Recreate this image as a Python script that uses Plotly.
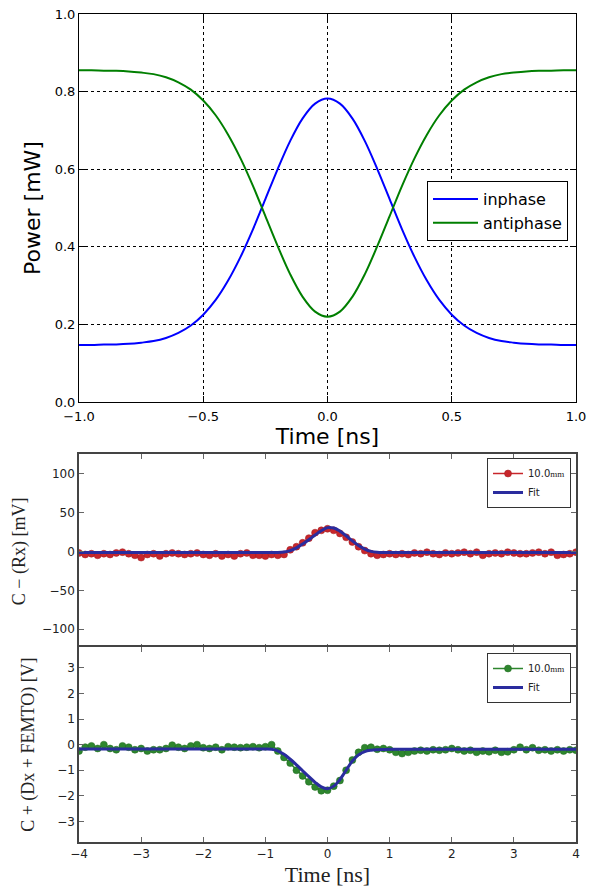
import plotly.graph_objects as go

# ---------------- data: top panel ----------------
t_top = [-1.0, -0.95, -0.9, -0.85, -0.8, -0.75, -0.7, -0.65, -0.6, -0.55, -0.5,
         -0.45, -0.4, -0.35, -0.3, -0.25, -0.2, -0.15, -0.1, -0.05, 0.0,
         0.05, 0.1, 0.15, 0.2, 0.25, 0.3, 0.35, 0.4, 0.45, 0.5,
         0.55, 0.6, 0.65, 0.7, 0.75, 0.8, 0.85, 0.9, 0.95, 1.0]
inphase = [0.147, 0.147, 0.148, 0.1485, 0.150, 0.153, 0.157, 0.165, 0.178, 0.197, 0.225,
           0.263, 0.313, 0.374, 0.445, 0.523, 0.601, 0.673, 0.731, 0.769, 0.782,
           0.769, 0.731, 0.673, 0.601, 0.523, 0.445, 0.374, 0.313, 0.263, 0.225,
           0.197, 0.178, 0.165, 0.157, 0.153, 0.150, 0.1485, 0.148, 0.147, 0.147]
antiphase = [0.855, 0.855, 0.854, 0.8535, 0.852, 0.849, 0.845, 0.837, 0.824, 0.805, 0.777,
             0.739, 0.689, 0.628, 0.557, 0.479, 0.401, 0.329, 0.271, 0.233, 0.220,
             0.233, 0.271, 0.329, 0.401, 0.479, 0.557, 0.628, 0.689, 0.739, 0.777,
             0.805, 0.824, 0.837, 0.845, 0.849, 0.852, 0.8535, 0.854, 0.855, 0.855]

# ---------------- data: bottom panels ----------------
t_bot = [-4.0, -3.9, -3.8, -3.7, -3.6, -3.5, -3.4, -3.3, -3.2, -3.1,
         -3.0, -2.9, -2.8, -2.7, -2.6, -2.5, -2.4, -2.3, -2.2, -2.1,
         -2.0, -1.9, -1.8, -1.7, -1.6, -1.5, -1.4, -1.3, -1.2, -1.1,
         -1.0, -0.9, -0.8, -0.7, -0.6, -0.5, -0.4, -0.3, -0.2, -0.1,
         0.0, 0.1, 0.2, 0.3, 0.4, 0.5, 0.6, 0.7, 0.8, 0.9,
         1.0, 1.1, 1.2, 1.3, 1.4, 1.5, 1.6, 1.7, 1.8, 1.9,
         2.0, 2.1, 2.2, 2.3, 2.4, 2.5, 2.6, 2.7, 2.8, 2.9,
         3.0, 3.1, 3.2, 3.3, 3.4, 3.5, 3.6, 3.7, 3.8, 3.9, 4.0]

rx_data = [-2, -4, -3, -5, -3, -4, -2, -1, -3, -5,
           -8, -4, -3, -6, -3, -2, -3, -4, -3, -2,
           -4, -5, -3, -6, -4, -6, -3, -2, -5, -5,
           -6, -4,
           -5, -4, 2, 6, 11, 17, 24, 27, 29, 27, 23, 18, 12, 6, 1, -3, -5, -4,
           -3, -4, -3, -4, -2, -3, -1, -3, -4, -2,
           -3, -2, -1, -3, -1, -5, -3, -2, -3, -1,
           -2, -3, -3, -2, -1, -3, -1, -5, -4, -3, -1]
rx_fit = [-1.5, -1.5, -1.5, -1.5, -1.5, -1.5, -1.5, -1.5, -1.5, -1.5,
          -1.5, -1.5, -1.5, -1.5, -1.5, -1.5, -1.5, -1.5, -1.5, -1.5,
          -1.5, -1.5, -1.5, -1.5, -1.5, -1.5, -1.5, -1.5, -1.5, -1.5,
          -1.5, -1.5,
          -1.5, -0.8, 1.0, 4.5, 9.5, 15.0, 21.0, 26.5, 30.5, 30.0,
          26.0, 20.0, 13.5, 7.5, 3.0, 0.0, -1.2, -1.5,
          -1.5, -1.5, -1.5, -1.5, -1.5, -1.5, -1.5, -1.5, -1.5, -1.5,
          -1.5, -1.5, -1.5, -1.5, -1.5, -1.5, -1.5, -1.5, -1.5, -1.5,
          -1.5, -1.5, -1.5, -1.5, -1.5, -1.5, -1.5, -1.5, -1.5, -1.5, -1.5]

dx_data = [-0.25, -0.1, -0.05, -0.15, 0.0, -0.15, -0.2, -0.05, -0.1, -0.2,
           -0.15, -0.25, -0.2, -0.2, -0.15, -0.02, -0.1, -0.15, -0.05, 0.0,
           -0.12, -0.15, -0.1, -0.2, -0.08, -0.1, -0.12, -0.1, -0.08, -0.12,
           -0.08, 0.0,
           -0.25, -0.5, -0.72, -1.0, -1.22, -1.45, -1.65, -1.8, -1.78, -1.62,
           -1.4, -1.0, -0.6, -0.3, -0.12, -0.1, -0.18, -0.15,
           -0.2, -0.3, -0.35, -0.3, -0.25, -0.22, -0.25, -0.2, -0.22, -0.2,
           -0.15, -0.2, -0.25, -0.22, -0.3, -0.25, -0.28, -0.22, -0.3, -0.28,
           -0.2, -0.1, -0.2, -0.12, -0.22, -0.2, -0.25, -0.2, -0.25, -0.2, -0.22]
dx_fit = [-0.17, -0.17, -0.17, -0.17, -0.17, -0.17, -0.17, -0.17, -0.17, -0.17,
          -0.17, -0.17, -0.17, -0.17, -0.17, -0.17, -0.17, -0.17, -0.17, -0.17,
          -0.17, -0.17, -0.17, -0.17, -0.17, -0.17, -0.17, -0.17, -0.17, -0.17,
          -0.17,
          -0.18, -0.24, -0.38, -0.57, -0.79, -1.02, -1.25, -1.47, -1.65, -1.72,
          -1.62, -1.36, -1.0, -0.64, -0.40, -0.27, -0.22, -0.20, -0.19,
          -0.18, -0.18, -0.18, -0.18, -0.18, -0.18, -0.18, -0.18, -0.18, -0.18,
          -0.18, -0.18, -0.18, -0.18, -0.18, -0.18, -0.18, -0.18, -0.18, -0.18,
          -0.18, -0.18, -0.18, -0.18, -0.18, -0.18, -0.18, -0.18, -0.18, -0.18, -0.18]

top_xticks = [-1.0, -0.5, 0.0, 0.5, 1.0]
top_yticks = [0.0, 0.2, 0.4, 0.6, 0.8, 1.0]
bot_xticks = [-4, -3, -2, -1, 0, 1, 2, 3, 4]
rx_yticks = [-100, -50, 0, 50, 100]
dx_yticks = [-3, -2, -1, 0, 1, 2, 3]

# ---------------- figure ----------------
W, H = 590, 890
def px(x):
    return x / W
def py(y):
    return 1 - y / H

RED = "#c8262b"
GREEN = "#2e862e"
FITC = "#2a2c9e"

fig = go.Figure()
fig.add_trace(go.Scatter(x=t_top, y=inphase, name="inphase", mode="lines",
                         line=dict(color="#0000ff", width=2, shape="spline"),
                         xaxis="x", yaxis="y", legend="legend"))
fig.add_trace(go.Scatter(x=t_top, y=antiphase, name="antiphase", mode="lines",
                         line=dict(color="#007f00", width=2, shape="spline"),
                         xaxis="x", yaxis="y", legend="legend"))

mm = "10.0<span style='font-family:Liberation Serif;font-size:9px'>mm</span>"
fig.add_trace(go.Scatter(x=t_bot, y=rx_data, name=mm, mode="lines+markers",
                         line=dict(color=RED, width=1.5),
                         marker=dict(color=RED, size=7, line=dict(color="#a01c20", width=0.5)),
                         xaxis="x2", yaxis="y2", legend="legend2"))
fig.add_trace(go.Scatter(x=t_bot, y=rx_fit, name="Fit", mode="lines",
                         line=dict(color=FITC, width=3, shape="spline"),
                         xaxis="x2", yaxis="y2", legend="legend2"))
fig.add_trace(go.Scatter(x=t_bot, y=dx_data, name=mm, mode="lines+markers",
                         line=dict(color=GREEN, width=1.5),
                         marker=dict(color=GREEN, size=7, line=dict(color="#1f6a1f", width=0.5)),
                         xaxis="x3", yaxis="y3", legend="legend3"))
fig.add_trace(go.Scatter(x=t_bot, y=dx_fit, name="Fit", mode="lines",
                         line=dict(color=FITC, width=3, shape="spline"),
                         xaxis="x3", yaxis="y3", legend="legend3"))

sans = "DejaVu Sans"
serif = "Liberation Serif"
xdom = [px(79), px(576)]

common_top = dict(showline=True, linecolor="black", linewidth=1, mirror="allticks",
                  ticks="inside", ticklen=6, tickcolor="black", zeroline=False,
                  showgrid=True, gridcolor="black", griddash="dot", gridwidth=1,
                  automargin=False,
                  tickfont=dict(family=sans, size=13, color="black"))
common_bot = dict(showline=True, linecolor="#444444", linewidth=1.5, mirror="allticks",
                  ticks="inside", ticklen=5, tickcolor="#666666", zeroline=False,
                  showgrid=False, automargin=False,
                  tickfont=dict(family=sans, size=12, color="#222222"))

fig.update_layout(
    template="none",
    width=W, height=H, margin=dict(l=0, r=0, t=0, b=0, pad=0),
    paper_bgcolor="white", plot_bgcolor="white",
    showlegend=True,
    xaxis=dict(domain=xdom, anchor="y", range=[-1, 1], tickvals=top_xticks,
               tickformat=".1f", ticklabelstandoff=2,
               title=dict(text="Time [ns]", font=dict(family=sans, size=22, color="black"),
                          standoff=2),
               **common_top),
    yaxis=dict(domain=[py(402), py(14)], anchor="x", range=[0, 1], tickvals=top_yticks,
               tickformat=".1f",
               title=dict(text="Power [mW]", font=dict(family=sans, size=22, color="black"),
                          standoff=8),
               **common_top),
    xaxis2=dict(domain=xdom, anchor="y2", range=[-4, 4], tickvals=bot_xticks,
                showticklabels=False, **common_bot),
    yaxis2=dict(domain=[py(648.75), py(454)], anchor="x2", range=[-125, 125],
                tickvals=rx_yticks,
                title=dict(text="C − (Rx) [mV]", font=dict(family=serif, size=18, color="#222222"),
                           standoff=12),
                **common_bot),
    xaxis3=dict(domain=xdom, anchor="y3", range=[-4, 4], tickvals=bot_xticks,
                title=dict(text="Time [ns]", font=dict(family=serif, size=22, color="#222222"),
                           standoff=6),
                **common_bot),
    yaxis3=dict(domain=[py(842), py(647.25)], anchor="x3", range=[-3.8, 3.8],
                tickvals=dx_yticks,
                title=dict(text="C + (Dx + FEMTO) [V]", font=dict(family=serif, size=18, color="#222222"),
                           standoff=18),
                **common_bot),
    legend=dict(x=px(568), y=py(181), xanchor="right", yanchor="top",
                bgcolor="white", bordercolor="black", borderwidth=1,
                font=dict(family=sans, size=16, color="black"),
                tracegroupgap=0, itemwidth=45),
    legend2=dict(x=px(571), y=py(458), xanchor="right", yanchor="top",
                 bgcolor="white", bordercolor="#333333", borderwidth=1,
                 font=dict(family=sans, size=10, color="#222222"),
                 tracegroupgap=0, itemwidth=30),
    legend3=dict(x=px(571), y=py(653), xanchor="right", yanchor="top",
                 bgcolor="white", bordercolor="#333333", borderwidth=1,
                 font=dict(family=sans, size=10, color="#222222"),
                 tracegroupgap=0, itemwidth=30),
)

# remove the default page margin so the 590x890 figure fills the window exactly
fig.write_html("out.html",
               config={"displayModeBar": False},
               post_script="document.body.style.margin='0px';document.body.style.overflow='hidden';")
